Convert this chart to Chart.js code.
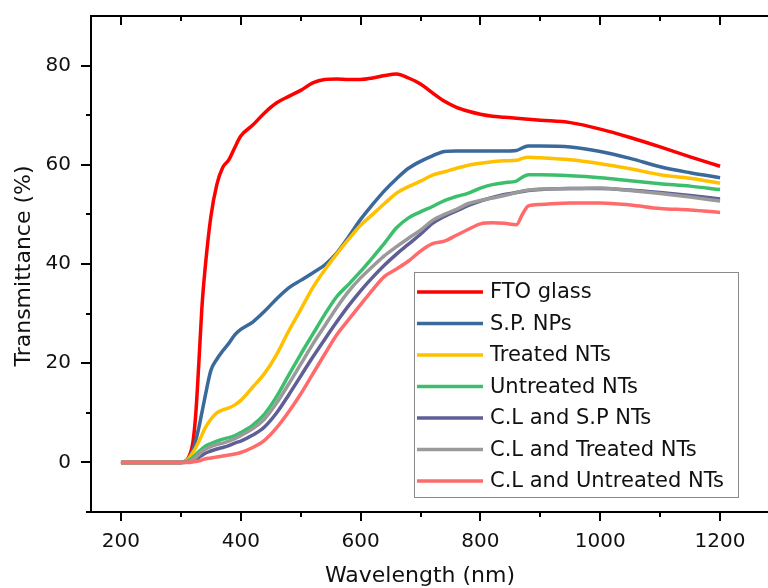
<!DOCTYPE html>
<html>
<head>
<meta charset="utf-8">
<script src="https://cdn.jsdelivr.net/npm/chart.js@4.4.1/dist/chart.umd.min.js"></script>
<style>
  body { margin: 0; background: #fff; overflow: hidden; }
  canvas { display: block; }
</style>
</head>
<body>
<canvas id="transChart" width="768" height="588"></canvas>
<script>
// wavelength (nm)
const wavelength = [200, 250, 300, 310, 320, 325, 330, 335, 340, 350, 360, 370, 380, 390, 400, 420, 440, 460, 480, 500,
  520, 540, 560, 580, 600, 620, 640, 660, 680, 700, 720, 740, 760, 780, 800, 820, 840, 860, 870, 880,
  900, 950, 1000, 1050, 1100, 1150, 1200];

// transmittance (%) per sample
const ftoGlass = [0, 0, 0, 0.5, 4, 10, 20, 31, 38.5, 49.5, 56, 59.5, 61, 63.5, 65.8, 68, 70.5, 72.5, 73.8, 75,
  76.5, 77.2, 77.3, 77.2, 77.2, 77.5, 78, 78.3, 77.5, 76.3, 74.5, 72.8, 71.6, 70.8, 70.2, 69.8, 69.6, 69.4, 69.3, 69.2,
  69, 68.5, 67.2, 65.5, 63.6, 61.6, 59.7];
const spNPs = [0, 0, 0, 0.3, 2.5, 4.5, 7, 10, 13, 18.5, 20.8, 22.5, 24, 25.7, 26.8, 28.3, 30.5, 33, 35.2, 36.7,
  38.2, 39.8, 42.2, 45.5, 49, 52, 54.8, 57.2, 59.3, 60.7, 61.8, 62.7, 62.8, 62.8, 62.8, 62.8, 62.8, 62.9, 63.4, 63.8,
  63.8, 63.6, 62.7, 61.3, 59.6, 58.4, 57.4];
const treatedNTs = [0, 0, 0, 0.4, 2, 3, 4.2, 5.5, 6.8, 8.7, 10, 10.6, 11, 11.6, 12.5, 15.2, 18, 21.8, 26.5, 30.8,
  35.2, 38.8, 42, 45, 47.8, 50, 52.2, 54.3, 55.6, 56.7, 57.9, 58.6, 59.3, 59.9, 60.3, 60.6, 60.8, 60.9, 61.3, 61.5,
  61.4, 61, 60.2, 59.2, 58, 57.3, 56.3];
const untreatedNTs = [0, 0, 0, 0.2, 1, 1.6, 2.2, 2.7, 3.2, 3.8, 4.3, 4.7, 5, 5.4, 6, 7.5, 9.8, 13.3, 17.6, 21.8,
  25.8, 29.8, 33.4, 35.9, 38.5, 41.3, 44.2, 47.3, 49.3, 50.5, 51.6, 52.8, 53.6, 54.3, 55.3, 56, 56.4, 56.7, 57.5, 58,
  58, 57.8, 57.4, 56.8, 56.2, 55.7, 55];
const clSpNTs = [0, 0, 0, 0.1, 0.4, 0.7, 1, 1.4, 1.8, 2.3, 2.7, 3, 3.4, 3.9, 4.3, 5.5, 7.2, 10, 13.6, 17.4,
  21.2, 24.8, 28.3, 31.6, 34.6, 37.3, 39.8, 42, 44, 46, 48.2, 49.6, 50.7, 51.8, 52.7, 53.4, 54, 54.4, 54.6, 54.8,
  55, 55.2, 55.2, 54.9, 54.4, 53.8, 53.1];
const clTreatedNTs = [0, 0, 0, 0.1, 0.6, 1, 1.6, 2.2, 2.6, 3.2, 3.6, 3.9, 4.3, 4.8, 5.4, 6.8, 8.8, 12, 15.8, 19.8,
  23.8, 27.5, 31.2, 34.5, 37.2, 39.5, 41.7, 43.5, 45.2, 46.8, 48.8, 50, 51, 52.2, 52.8, 53.3, 53.8, 54.4, 54.7, 54.9,
  55.1, 55.2, 55.3, 54.8, 54.2, 53.5, 52.7];
const clUntreatedNTs = [0, 0, 0, 0, 0.1, 0.2, 0.3, 0.5, 0.7, 0.9, 1.1, 1.3, 1.5, 1.7, 2, 3, 4.5, 7, 10.2, 13.8,
  17.8, 21.8, 25.7, 28.8, 31.8, 34.8, 37.5, 39, 40.6, 42.6, 44.1, 44.6, 45.8, 47, 48.1, 48.3, 48.2, 47.9, 50, 51.7,
  52, 52.3, 52.3, 51.9, 51.2, 50.9, 50.4];

const seriesLabels = ['FTO glass', 'S.P. NPs', 'Treated NTs', 'Untreated NTs', 'C.L and S.P NTs', 'C.L and Treated NTs', 'C.L and Untreated NTs'];
const seriesValues = [ftoGlass, spNPs, treatedNTs, untreatedNTs, clSpNTs, clTreatedNTs, clUntreatedNTs];
const seriesColors = ['#ff0000', '#3a6a9b', '#ffc000', '#3cbf6c', '#5f5f98', '#9a9a9a', '#ff6b6b'];

const xTicks = [200, 300, 400, 500, 600, 700, 800, 900, 1000, 1100, 1200];
const yTicks = [-10, 0, 10, 20, 30, 40, 50, 60, 70, 80];

const FONT = "'DejaVu Sans', sans-serif";

// top axis line, tick marks, axis titles and legend box
const decorPlugin = {
    id: 'decor',
    afterDraw(chart) {
        const ctx = chart.ctx;
        const area = chart.chartArea;
        const xs = chart.scales.x;
        const ys = chart.scales.y;
        ctx.save();
        ctx.strokeStyle = '#000';
        ctx.lineWidth = 2;
        ctx.beginPath();
        ctx.moveTo(area.left - 1, area.top);
        ctx.lineTo(chart.width, area.top);
        xTicks.forEach(v => {
            const px = Math.round(xs.getPixelForValue(v));
            const len = v % 200 === 0 ? 9 : 5;
            ctx.moveTo(px, area.bottom);
            ctx.lineTo(px, area.bottom + len);
            ctx.moveTo(px, area.top);
            ctx.lineTo(px, area.top + len);
        });
        yTicks.forEach(v => {
            const py = Math.round(ys.getPixelForValue(v));
            const len = v % 20 === 0 ? 10 : 5;
            ctx.moveTo(area.left, py);
            ctx.lineTo(area.left - len, py);
        });
        ctx.stroke();

        // axis titles
        ctx.fillStyle = '#111';
        ctx.font = '22px ' + FONT;
        ctx.textAlign = 'center';
        ctx.textBaseline = 'middle';
        ctx.fillText('Wavelength (nm)', 420, 576);
        ctx.translate(24, 266);
        ctx.rotate(-Math.PI / 2);
        ctx.fillText('Transmittance (%)', 0, 0);
        ctx.restore();

        // legend
        ctx.save();
        const bx = 414, by = 272, bw = 324, bh = 225;
        ctx.fillStyle = '#fff';
        ctx.fillRect(bx, by, bw, bh);
        ctx.strokeStyle = '#8a8a8a';
        ctx.lineWidth = 1;
        ctx.strokeRect(bx + 0.5, by + 0.5, bw, bh);
        ctx.font = '21px ' + FONT;
        ctx.textAlign = 'left';
        ctx.textBaseline = 'middle';
        chart.data.datasets.forEach((ds, i) => {
            const ry = 292 + i * 31.5;
            ctx.strokeStyle = ds.borderColor;
            ctx.lineWidth = 3.5;
            ctx.beginPath();
            ctx.moveTo(417, ry);
            ctx.lineTo(483, ry);
            ctx.stroke();
            ctx.fillStyle = '#111';
            ctx.fillText(ds.label, 490, ry + 1);
        });
        ctx.restore();
    }
};

const ctx = document.getElementById('transChart').getContext('2d');
const transChart = new Chart(ctx, {
    type: 'line',
    data: {
        datasets: seriesLabels.map((label, i) => ({
            label: label,
            data: wavelength.map((w, j) => ({ x: w, y: seriesValues[i][j] })),
            borderColor: seriesColors[i],
            backgroundColor: seriesColors[i],
            borderWidth: 3.5,
            pointRadius: 0,
            fill: false,
            cubicInterpolationMode: 'monotone',
            order: seriesLabels.length - i
        }))
    },
    options: {
        responsive: false,
        animation: false,
        devicePixelRatio: 1,
        layout: { padding: { top: 16, left: 0, right: 0, bottom: 0 } },
        plugins: {
            legend: { display: false },
            tooltip: { enabled: false }
        },
        scales: {
            x: {
                type: 'linear',
                position: 'bottom',
                min: 150,
                max: 1280,
                afterBuildTicks: scale => { scale.ticks = xTicks.map(v => ({ value: v })); },
                afterFit: scale => {
                    scale.height = 76;
                    scale.paddingLeft = 0;
                    scale.paddingRight = 0;
                },
                grid: { display: false, drawTicks: false },
                border: { display: true, color: '#000', width: 2 },
                ticks: {
                    padding: 18,
                    color: '#111',
                    font: { family: FONT, size: 20 },
                    maxRotation: 0,
                    autoSkip: false,
                    callback: v => (v % 200 === 0 ? String(v) : '')
                }
            },
            y: {
                type: 'linear',
                position: 'left',
                min: -10,
                max: 90,
                afterBuildTicks: scale => { scale.ticks = yTicks.map(v => ({ value: v })); },
                afterFit: scale => {
                    scale.width = 91;
                    scale.paddingTop = 0;
                    scale.paddingBottom = 0;
                },
                grid: { display: false, drawTicks: false },
                border: { display: true, color: '#000', width: 2 },
                ticks: {
                    padding: 20,
                    color: '#111',
                    font: { family: FONT, size: 20 },
                    autoSkip: false,
                    callback: v => (v % 20 === 0 && v >= 0 ? String(v) : '')
                }
            }
        }
    },
    plugins: [decorPlugin]
});
</script>
</body>
</html>
